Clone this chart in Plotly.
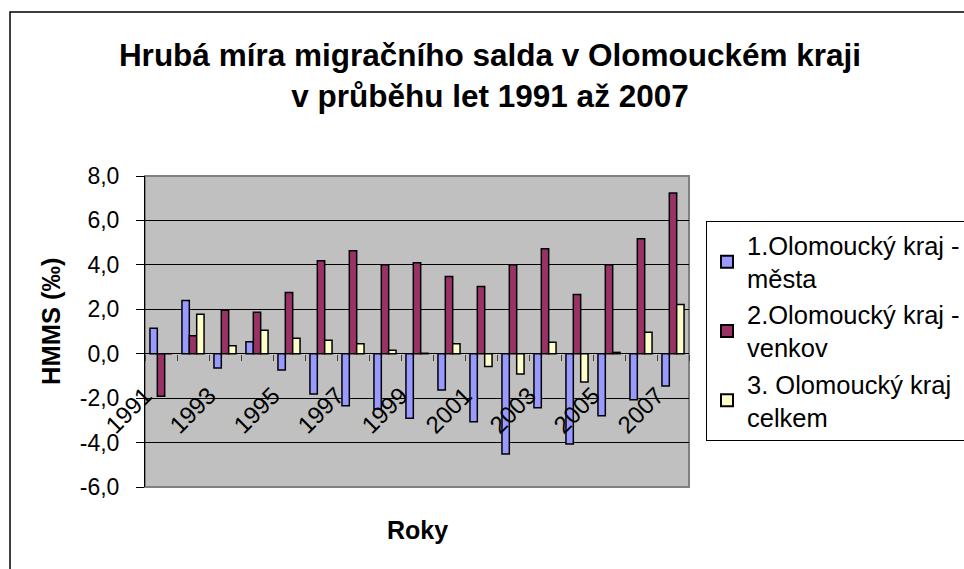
import plotly.graph_objects as go

years = [str(y) for y in range(1991, 2008)]
x_tick_text = [y if (int(y) % 2 == 1) else "" for y in years]

y_tick_vals = [-6, -4, -2, 0, 2, 4, 6, 8]
y_tick_text = ["-6,0", "-4,0", "-2,0", "0,0", "2,0", "4,0", "6,0", "8,0"]

mesta = [1.15, 2.40, -0.64, 0.54, -0.73, -1.81, -2.34, -2.49, -2.90, -1.63, -3.06, -4.51, -2.43, -4.06, -2.79, -2.07, -1.45]
venkov = [-1.91, 0.81, 1.96, 1.87, 2.76, 4.19, 4.64, 4.00, 4.10, 3.48, 3.03, 4.00, 4.73, 2.67, 4.00, 5.18, 7.24]
celkem = [0.0, 1.78, 0.36, 1.06, 0.70, 0.61, 0.45, 0.16, 0.02, 0.45, -0.57, -0.91, 0.52, -1.27, 0.06, 0.97, 2.22]

names = ["1.Olomoucký kraj -<br>města", "2.Olomoucký kraj -<br>venkov", "3. Olomoucký kraj<br>celkem"]
colors = ["#9999FF", "#993366", "#FFFFCC"]

FONT = "Liberation Sans, Arial, sans-serif"

fig = go.Figure()
for vals, nm, col in zip([mesta, venkov, celkem], names, colors):
    fig.add_trace(go.Bar(x=years, y=vals, name=nm,
                         marker=dict(color=col, line=dict(color="black", width=1.5))))

W, H = 964, 569
L, R, T, B = 145, 689, 176, 487
pw, ph = R - L, B - T

def px_x(x):
    return (x - L) / pw

def px_y(y):
    return (B - y) / ph

fig.update_layout(
    width=W, height=H,
    margin=dict(l=L, r=W - R, t=T, b=H - B, autoexpand=False),
    paper_bgcolor="white",
    plot_bgcolor="#C0C0C0",
    barmode="group",
    bargap=0.31,
    bargroupgap=0,
    font=dict(family=FONT, color="black", size=23),
    title=dict(text="<b>Hrubá míra migračního salda v Olomouckém kraji<br>v průběhu let 1991 až 2007</b>",
               x=490 / W, xanchor="center", y=1 - 66 / H, yanchor="top",
               font=dict(size=31.5, family=FONT, color="black")),
    legend=dict(x=px_x(706), y=px_y(221), xanchor="left", yanchor="top",
                bgcolor="white", bordercolor="black", borderwidth=1,
                font=dict(size=25.5, family=FONT, color="black"),
                tracegroupgap=0, itemsizing="constant"),
    showlegend=True,
)

fig.update_xaxes(
    type="category",
    anchor="free", position=6 / 14,
    tickmode="array", tickvals=years, ticktext=x_tick_text,
    tickson="boundaries", ticks="outside", ticklen=6, tickcolor="#404040", tickwidth=1,
    tickangle=-45, ticklabelstandoff=22, ticklabelshift=-16,
    tickfont=dict(size=24, family=FONT, color="black"),
    showline=False, showgrid=False, zeroline=False,
)
fig.update_yaxes(
    range=[-6, 8], tickmode="array", tickvals=y_tick_vals, ticktext=y_tick_text,
    ticks="outside", ticklen=8, tickcolor="black", ticklabelstandoff=12,
    showline=True, linecolor="black", linewidth=1,
    showgrid=True, gridcolor="black", gridwidth=1,
    zeroline=True, zerolinecolor="black", zerolinewidth=1,
    tickfont=dict(size=23, family=FONT, color="black"),
)

# axis titles
fig.add_annotation(text="<b>HMMS (‰)</b>", xref="paper", yref="paper",
                   x=px_x(51), y=px_y(322), textangle=-90, showarrow=False,
                   xanchor="center", yanchor="middle",
                   font=dict(size=25.5, family=FONT, color="black"))
fig.add_annotation(text="<b>Roky</b>", xref="paper", yref="paper",
                   x=px_x(417), y=px_y(530), showarrow=False,
                   xanchor="center", yanchor="middle",
                   font=dict(size=25, family=FONT, color="black"))

# plot area border (grey) and outer chart border
fig.add_shape(type="rect", xref="paper", yref="paper", x0=0, x1=1, y0=0, y1=1,
              line=dict(color="#808080", width=2), layer="below")
fig.add_shape(type="rect", xref="paper", yref="paper",
              x0=px_x(10), x1=px_x(1100), y0=px_y(700), y1=px_y(12),
              line=dict(color="black", width=1.5), fillcolor="rgba(0,0,0,0)", layer="below")

fig.write_html("out.html", config={"displayModeBar": False},
               post_script="document.body.style.margin='0';")
